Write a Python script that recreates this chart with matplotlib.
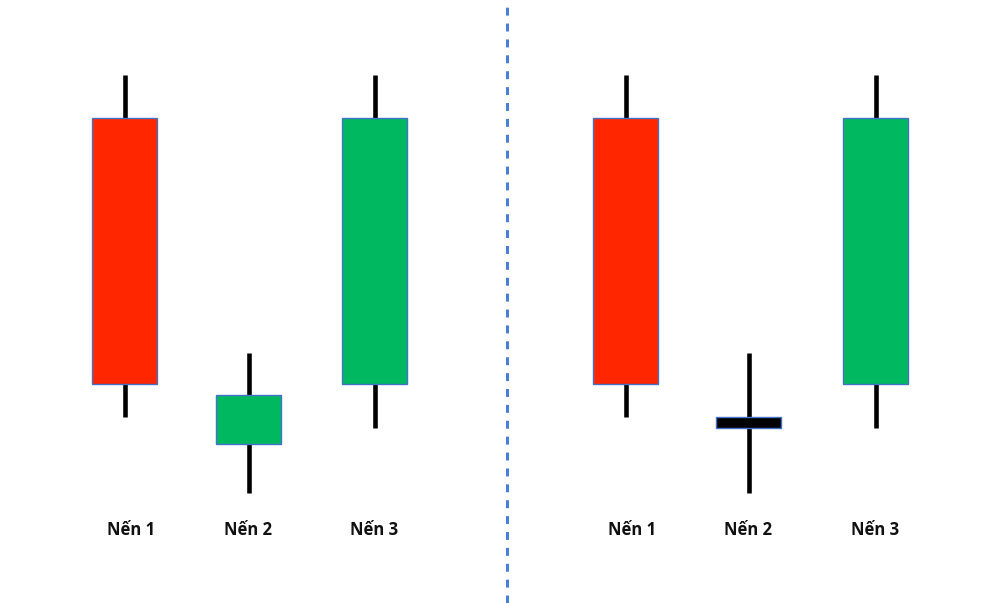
import matplotlib.pyplot as plt
from matplotlib.patches import Rectangle

# candle data (price units), left panel then right panel
labels = ['Nến 1', 'Nến 2', 'Nến 3']
left_open = [48.5, 15.9, 21.9]
left_close = [21.9, 20.8, 48.5]
left_high = [52.8, 25.0, 52.8]
left_low = [18.6, 11.0, 17.5]

right_open = [48.5, 18.6, 21.9]
right_close = [21.9, 17.5, 48.5]
right_high = [52.8, 25.0, 52.8]
right_low = [18.6, 11.0, 17.5]

RED = '#FF2600'
GREEN = '#00B860'
EDGE = '#4472C4'
BODY_W = 65
LABEL_DX = [6.5, 0, 0]


def draw_candles(ax, xs, opens, closes, highs, lows, doji_idx=None):
    for i, x in enumerate(xs):
        ax.plot([x, x], [lows[i], highs[i]], color='black', lw=3.3,
                solid_capstyle='butt', zorder=1)
        lo = min(opens[i], closes[i])
        h = abs(closes[i] - opens[i])
        if i == doji_idx:
            face = 'black'
        else:
            face = GREEN if closes[i] > opens[i] else RED
        ax.add_patch(Rectangle((x - BODY_W / 2, lo), BODY_W, h,
                               facecolor=face, edgecolor=EDGE, lw=1.0, zorder=2))
        ax.text(x + LABEL_DX[i], 7.3, labels[i], ha='center', va='center',
                fontsize=12, fontweight='bold', family='Open Sans', color='#111111')


fig = plt.figure(figsize=(10, 6.03), dpi=100)
ax = fig.add_axes([0, 0, 1, 1])
ax.set_xlim(0, 1000)
ax.set_ylim(0, 60.3)
ax.axis('off')

draw_candles(ax, [124.5, 248.5, 374.5], left_open, left_close, left_high, left_low)
draw_candles(ax, [625.5, 748.5, 875.5], right_open, right_close, right_high, right_low,
             doji_idx=1)

ax.axvline(507, color='#4A7FD8', lw=2.2, ls=(0, (2.6, 2.6)))

fig.savefig('out.png', dpi=100)
